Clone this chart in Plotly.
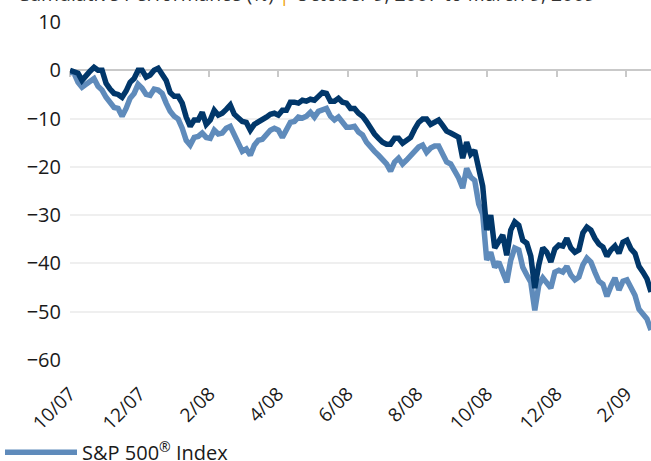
import plotly.graph_objects as go
import pandas as pd

# ---------------- data ----------------
start_date = "2007-10-09"
end_date = "2009-03-09"

sp500_name = "S&P 500<sup>®</sup> Index"
fund_name = "Fund"

# cumulative performance (%), evenly spaced samples across the period
sp500 = [
    -0.4, -0.6, -2.5, -3.5, -2.9, -2.3, -1.7, -3.3, -4.1, -5.6,
    -6.8, -7.7, -7.9, -9.5, -7.9, -5.8, -4.8, -2.9, -3.7, -5.0,
    -5.2, -3.9, -4.1, -4.8, -6.8, -8.5, -9.5, -10.1, -12.0, -14.5,
    -15.5, -13.9, -13.7, -13.0, -13.9, -14.1, -12.4, -13.2, -13.0, -12.0,
    -11.6, -13.4, -14.9, -16.8, -16.3, -17.6, -15.5, -14.5, -14.3, -13.4,
    -12.4, -12.0, -12.4, -13.9, -12.4, -10.8, -10.6, -9.7, -9.9, -9.5,
    -8.7, -9.7, -8.5, -8.1, -7.9, -9.5, -10.3, -9.7, -10.6, -11.8,
    -11.8, -11.6, -12.8, -13.4, -14.9, -16.1, -16.8, -17.6, -18.4, -19.4,
    -20.9, -19.0, -18.2, -19.4, -18.6, -17.8, -17.0, -15.9, -15.5, -17.0,
    -16.1, -15.7, -15.7, -17.6, -19.0, -19.4, -20.7, -22.3, -24.4, -20.3,
    -22.1, -22.8, -27.7, -29.8, -39.3, -37.7, -40.8, -39.7, -41.8, -43.9,
    -39.3, -36.8, -37.2, -40.8, -42.4, -43.9, -49.7, -44.5, -43.0, -44.1,
    -45.1, -41.8, -41.4, -41.8, -40.6, -42.4, -43.4, -42.8, -40.3, -38.9,
    -39.7, -41.8, -43.7, -44.3, -46.8, -44.7, -43.0, -45.5, -43.7, -43.4,
    -45.3, -46.6, -49.5, -50.7, -51.5, -53.8,
]
fund = [
    0.0, -0.2, -0.6, -2.1, -1.0, -0.2, 0.6, 0.0, 0.0, -2.7,
    -3.9, -4.8, -5.0, -5.6, -4.3, -2.5, -1.7, 0.0, 0.0, -1.4,
    -1.0, 0.0, 0.4, -1.0, -2.1, -4.6, -5.4, -5.4, -6.8, -9.7,
    -11.6, -10.3, -10.3, -8.7, -11.2, -10.3, -8.3, -9.3, -8.9, -8.1,
    -7.2, -9.1, -9.9, -10.6, -10.8, -12.4, -11.2, -10.8, -10.3, -9.7,
    -9.1, -8.9, -9.3, -8.3, -8.3, -6.6, -6.6, -6.8, -6.2, -6.4,
    -6.0, -6.2, -5.4, -4.6, -4.8, -6.4, -6.4, -5.8, -6.6, -6.8,
    -7.9, -7.9, -8.9, -9.5, -10.6, -12.0, -13.2, -14.1, -14.9, -15.3,
    -15.3, -14.1, -14.1, -15.1, -14.5, -13.9, -12.2, -10.8, -10.1, -10.1,
    -11.2, -10.8, -10.3, -11.4, -12.6, -13.0, -13.4, -13.9, -18.2, -14.9,
    -17.4, -16.6, -20.3, -24.0, -33.1, -30.0, -36.8, -35.2, -34.1, -38.3,
    -33.1, -31.4, -32.1, -35.2, -35.8, -38.5, -45.1, -40.3, -36.8, -37.7,
    -39.7, -37.0, -36.2, -36.4, -34.8, -36.8, -37.7, -37.2, -33.7, -32.5,
    -33.1, -34.8, -36.0, -36.6, -38.5, -37.2, -36.4, -37.9, -35.6, -35.2,
    -37.0, -37.9, -40.6, -41.8, -43.2, -45.9,
]

x_tick_labels = ["10/07", "12/07", "2/08", "4/08", "6/08", "8/08", "10/08", "12/08", "2/09"]
x_tick_dates = ["2007-10-09", "2007-12-10", "2008-02-10", "2008-04-11", "2008-06-12",
                "2008-08-13", "2008-10-14", "2008-12-15", "2009-02-15"]
y_ticks = [-60, -50, -40, -30, -20, -10, 0, 10]

title_left = "Cumulative Performance (%)"
title_right = "October 9, 2007 to March 9, 2009"

# ---------------- figure ----------------
W, H = 651, 461
MT, MB = 22, 101
plot_left = 70
FONT = "Open Sans, Noto Sans, sans-serif"
LIGHT = "#5f8bbb"
DARK = "#01376a"
AXIS_GRAY = "#c9c9c9"

dates = pd.date_range(start_date, end_date, periods=len(sp500))
ymin, ymax = y_ticks[0], y_ticks[-1]

fig = go.Figure()
fig.add_trace(go.Scatter(x=dates, y=sp500, name=sp500_name, mode="lines",
                         line=dict(color=LIGHT, width=5.5), hoverinfo="skip"))
fig.add_trace(go.Scatter(x=dates, y=fund, name=fund_name, mode="lines",
                         line=dict(color=DARK, width=5.5), hoverinfo="skip"))
# helper so the zero-line axis is drawn
fig.add_trace(go.Scatter(x=[None], y=[None], xaxis="x3", yaxis="y",
                         showlegend=False, hoverinfo="skip"))

fig.update_layout(
    width=W, height=H,
    margin=dict(l=0, r=0, t=MT, b=MB, autoexpand=False),
    paper_bgcolor="white", plot_bgcolor="white",
    font=dict(family=FONT, color="#1a1a1a", size=19),
    xaxis=dict(domain=[plot_left / W, 1], type="date", range=[dates[0], dates[-1]],
               tickvals=x_tick_dates, ticktext=x_tick_labels, tickangle=-45,
               showgrid=False, zeroline=False, showline=False, ticks="",
               ticklabelstandoff=18, tickfont=dict(size=19, color="#1a1a1a")),
    xaxis3=dict(overlaying="x", anchor="free", position=(0 - ymin) / (ymax - ymin),
                type="date", range=[dates[0], dates[-1]], tickvals=x_tick_dates,
                showline=True, linecolor=AXIS_GRAY, linewidth=2,
                ticks="outside", ticklen=6, tickwidth=2, tickcolor=AXIS_GRAY,
                showticklabels=False, showgrid=False, zeroline=False, layer="below traces"),
    yaxis=dict(range=[ymin, ymax], tickvals=y_ticks, showgrid=True, gridcolor="#efefef",
               gridwidth=2, zeroline=False, showline=False, ticks="",
               ticklabelstandoff=8, tickfont=dict(size=20, color="#1a1a1a")),
    legend=dict(x=0, xanchor="left", y=-0.215, yanchor="top", orientation="v",
                font=dict(size=20, color="#1a1a1a"), itemwidth=72,
                bgcolor="rgba(0,0,0,0)", tracegroupgap=4),
    showlegend=True,
)

fig.add_annotation(
    xref="paper", yref="paper", x=15 / W, y=1.039, xanchor="left", yanchor="bottom",
    text=f"{title_left} <span style='color:#f0a30a'>|</span> {title_right}",
    showarrow=False, font=dict(size=19.4, color="#333333", family=FONT),
)

fig.write_html("out.html", config={"displayModeBar": False},
               post_script="document.body.style.margin='0';")
